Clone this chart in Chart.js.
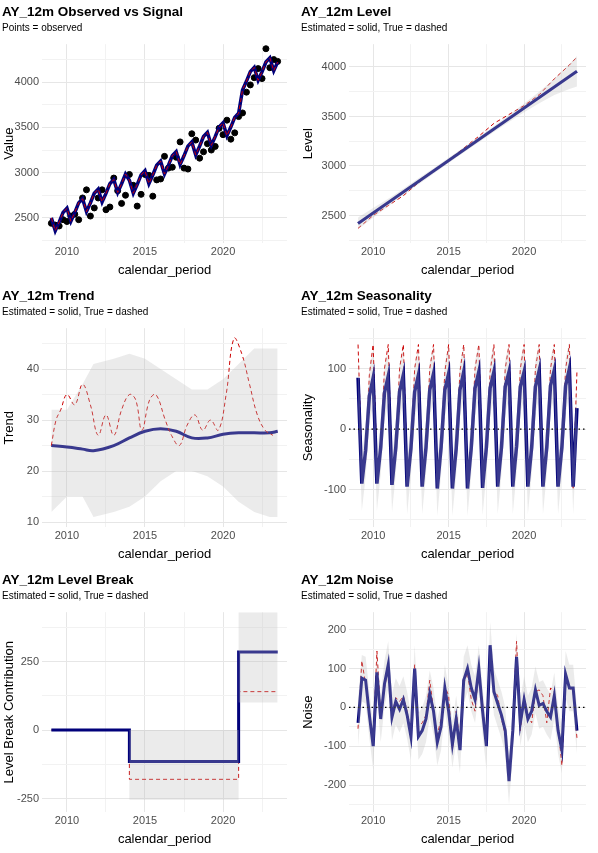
<!DOCTYPE html>
<html><head><meta charset="utf-8">
<script src="https://cdn.jsdelivr.net/npm/chart.js@4"></script>
<style>
body{margin:0;background:#fff;width:598px;height:853px;position:relative;font-family:"Liberation Sans",Arial,sans-serif}
.p{position:absolute;width:299px;height:284px}
</style></head><body>
<div class="p" style="left:0;top:0"><canvas id="c1" width="299" height="284"></canvas></div>
<div class="p" style="left:299px;top:0"><canvas id="c2" width="299" height="284"></canvas></div>
<div class="p" style="left:0;top:284px"><canvas id="c3" width="299" height="284"></canvas></div>
<div class="p" style="left:299px;top:284px"><canvas id="c4" width="299" height="284"></canvas></div>
<div class="p" style="left:0;top:568px"><canvas id="c5" width="299" height="285"></canvas></div>
<div class="p" style="left:299px;top:568px"><canvas id="c6" width="299" height="285"></canvas></div>
<script>
// quarterly periods 2009.00 .. 2023.50
const quarters = [];
for (let i = 0; i < 59; i++) quarters.push(2009 + i / 4);

const observed = [2440,2420,2410,2480, 2460,2520,2540,2480, 2720,2810,2520,2610, 2720,2810,2590,2620,
 2940,2800,2660,2750, 2980,2860,2630,2760, 2980,2970,2740,2920, 2930,3180,3050,3060,
 3170,3340,3050,3040, 3430,3360,3160,3230, 3320,3250,3290,3490, 3420,3580,3370,3440,
 3620,3660,3890,3970, 4050,4150,4040,4370, 4160,4250,4230];
const signal = [2500,2357,2453,2560, 2606,2463,2559,2666, 2712,2569,2665,2772, 2818,2675,2771,2878,
 2924,2781,2877,2984, 2915,2772,2868,2975, 3021,2878,2974,3081, 3127,2984,3080,3187,
 3233,3090,3186,3293, 3339,3196,3292,3399, 3445,3302,3398,3505, 3551,3408,3504,3611,
 3657,3914,4010,4117, 4163,4020,4116,4223, 4269,4126,4222];

const levelYears = [2009,2010,2011,2012,2013,2014,2015,2016,2017,2018,2019,2020,2021,2022,2023,2023.5];
const levelEst  = [2420,2526,2632,2738,2844,2950,3056,3162,3268,3374,3480,3586,3692,3798,3904,3957];
const levelTrue = [2370,2500,2600,2700,2830,2950,3060,3180,3300,3430,3520,3610,3720,3880,4020,4100];
const levelUp   = [2480,2575,2670,2770,2875,2978,3082,3188,3296,3405,3515,3630,3750,3880,4030,4110];
const levelLo   = [2360,2477,2594,2706,2813,2922,3030,3136,3240,3343,3445,3542,3634,3716,3778,3804];

const trendYears = [2009,2010,2011,2011.7,2013,2014,2015,2016,2017,2018,2019,2020,2021,2022,2023,2023.5];
const trendEst   = [25,24.7,24.3,24,25,26.5,27.8,28.3,27.8,26.5,26.5,27.2,27.5,27.5,27.5,27.8];
const trendUp    = [32,32,37,41,42,43,42,40,38,36,36,38,41,44,44,44];
const trendLo    = [12,15,15,11,12,13,15,18,20,20,19,17,14,12,11,11];
const trendTrueX = [2009,2009.3,2009.6,2010,2010.5,2011,2011.5,2012,2012.5,2013,2013.5,2014,2014.4,2014.8,2015.3,2015.7,2016.3,2016.7,2017.2,2017.7,2018.2,2018.7,2019.2,2019.7,2020.2,2020.7,2021.2,2021.7,2022.2,2022.7,2023.2];
const trendTrue  = [25,30,32,35,33,37,33,27,31,27,32,35,34,28,34,35,30,27,25,29,31,28,30,28,35,46,43,37,31,28,27];

const seasEst = [85,-90,-35,55, 85,-90,-30,60, 88,-92,-30,62, 90,-95,-32,62, 90,-95,-30,65, 92,-98,-30,65,
 92,-98,-32,65, 95,-98,-30,68, 95,-97,-30,68, 95,-95,-30,70, 95,-95,-28,70, 95,-95,-30,70,
 97,-95,-30,72, 98,-95,-30,72, 100,-95,35];
const seasTrue = [140,-60,-50,90, 140,-60,-40,100, 140,-70,-40,100, 140,-70,-40,100, 140,-80,-40,100, 140,-80,-30,95,
 140,-80,-35,95, 140,-80,-30,100, 140,-75,-40,95, 140,-80,-40,100, 140,-80,-40,100, 140,-80,-40,100,
 140,-90,-30,100, 140,-90,-30,100, 140,-100,95];

const breakX    = [2009,2014,2014,2021,2021,2023.5];
const breakEst  = [0,0,-115,-115,285,285];
const breakTrue = [0,0,-180,-180,140,140];
const breakUp   = [0,0,0,0,460,460];
const breakLo   = [0,0,-255,-255,100,100];

const noiseEst = [-40,75,70,-20, -100,90,-30,60, 110,-25,15,-5, 20,-20,-75,100, -75,-60,-30,35,
 -10,-90,-50,50, -10,-95,-30,-110, 70,100,50,20, 100,-10,-100,160, 40,10,-20,-60,
 -190,-60,130,-40, 20,-30,-10,45, 5,10,-10,-25, 30,-60,-110,85, 50,50,-60];
const noiseTrue = [-55,120,60,-10, -95,145,-20,50, 100,-20,25,15, 30,-10,-60,110, -50,-40,-20,70,
 -5,-70,-30,55, 30,-110,-10,-90, 60,90,20,-10, 95,10,-95,150, 45,30,-30,-70,
 -170,-50,170,-60, 30,-20,-40,40, 45,30,-40,50, 40,-50,-150,80, 50,40,-80];

const xr = (xs, ys) => xs.map((x, i) => ({x, y: ys[i]}));
const BLUE = '#00007a', RED = '#cc0000', BAND = 'rgba(190,190,190,0.3)';

function line(xs, ys, o) {
  return Object.assign({data: xr(xs, ys), borderColor: BLUE, backgroundColor: BLUE, borderWidth: 3, pointRadius: 0, fill: false, tension: 0}, o);
}
function band(xs, up, lo) {
  return [
    {data: xr(xs, up), borderWidth: 0, pointRadius: 0, fill: '+1', backgroundColor: BAND, borderColor: 'transparent'},
    {data: xr(xs, lo), borderWidth: 0, pointRadius: 0, fill: false, borderColor: 'transparent'}
  ];
}
function zero() {
  return {data: [{x: 2008.4, y: 0}, {x: 2024.1, y: 0}], borderColor: '#000', borderWidth: 1.2, borderDash: [1.5, 3], pointRadius: 0, fill: false};
}

function make(id, title, sub, ytitle, ymin, ymax, step, major, yw, datasets) {
  new Chart(document.getElementById(id), {
    type: 'line',
    data: {datasets},
    options: {
      responsive: false, animation: false, devicePixelRatio: 1,
      layout: {padding: {left: 2, right: 12, top: 0, bottom: 2}},
      plugins: {
        legend: {display: false}, tooltip: {enabled: false},
        title: {display: true, text: title, align: 'start', color: '#000', font: {size: 13.5, weight: 'bold', family: 'Liberation Sans'}, padding: {top: 4, bottom: 2}},
        subtitle: {display: true, text: sub, align: 'start', color: '#000', font: {size: 10, family: 'Liberation Sans'}, padding: {bottom: 10}}
      },
      scales: {
        x: {type: 'linear', min: 2008.4, max: 2024.1,
          border: {display: false},
          ticks: {stepSize: 2.5, autoSkip: false, color: '#4d4d4d', font: {size: 11}, maxRotation: 0, padding: 2,
            callback: v => (v % 5 === 0 ? String(v) : '')},
          afterBuildTicks: a => { a.ticks = [2007.5,2010,2012.5,2015,2017.5,2020,2022.5].filter(v => v >= a.min && v <= a.max).map(v => ({value: v})); },
          grid: {color: c => (c.tick && c.tick.value % 5 === 0 ? '#e6e6e6' : '#f2f2f2'), drawTicks: false, lineWidth: 1},
          title: {display: true, text: 'calendar_period', color: '#000', font: {size: 13}, padding: {top: 2}}},
        y: {min: ymin, max: ymax,
          border: {display: false},
          afterFit: a => { a.width = yw; },
          afterBuildTicks: a => { const t = []; const s = Math.ceil(ymin / step) * step; for (let v = s; v <= ymax; v += step) t.push({value: v}); a.ticks = t; },
          ticks: {color: '#4d4d4d', font: {size: 11}, padding: 3, autoSkip: false,
            callback: v => (Math.abs(v % major) < 1e-9 ? String(v) : '')},
          grid: {color: c => (c.tick && Math.abs(c.tick.value % major) < 1e-9 ? '#e6e6e6' : '#f2f2f2'), drawTicks: false},
          title: {display: true, text: ytitle, color: '#000', font: {size: 13}, padding: {top: 0, bottom: 0}}}
      }
    }
  });
}

make('c1', 'AY_12m Observed vs Signal', 'Points = observed', 'Value', 2220, 4420, 250, 500, 40, [
  line(quarters, signal, {borderColor: RED, borderWidth: 1, borderDash: [4, 3]}),
  line(quarters, signal, {borderWidth: 3.5}),
  {type: 'scatter', data: xr(quarters, observed), backgroundColor: '#000', borderColor: '#000', pointRadius: 3, showLine: false}
]);
make('c2', 'AY_12m Level', 'Estimated = solid, True = dashed', 'Level', 2220, 4230, 250, 500, 48, [
  ...band(levelYears, levelUp, levelLo),
  line(levelYears, levelEst),
  line(levelYears, levelTrue, {borderColor: RED, borderWidth: 1, borderDash: [4, 3]})
]);
make('c3', 'AY_12m Trend', 'Estimated = solid, True = dashed', 'Trend', 9, 48, 5, 10, 40, [
  ...band(trendYears, trendUp, trendLo),
  line(trendTrueX, trendTrue, {borderColor: RED, borderWidth: 1, borderDash: [4, 3], tension: 0.4}),
  line(trendYears, trendEst, {tension: 0.4})
]);
make('c4', 'AY_12m Seasonality', 'Estimated = solid, True = dashed', 'Seasonality', -162, 167, 50, 100, 48, [
  ...band(quarters, seasEst.map(v => v + 45), seasEst.map(v => v - 45)),
  zero(),
  line(quarters, seasEst, {borderWidth: 3.5}),
  line(quarters, seasTrue, {borderColor: RED, borderWidth: 1, borderDash: [4, 3]})
]);
make('c5', 'AY_12m Level Break', 'Estimated = solid, True = dashed', 'Level Break Contribution', -300, 430, 125, 250, 40, [
  ...band(breakX, breakUp, breakLo),
  line(breakX, breakEst),
  line(breakX, breakTrue, {borderColor: RED, borderWidth: 1, borderDash: [4, 3]})
]);
make('c6', 'AY_12m Noise', 'Estimated = solid, True = dashed', 'Noise', -270, 245, 50, 100, 48, [
  ...band(quarters, noiseEst.map(v => v + 60), noiseEst.map(v => v - 60)),
  zero(),
  line(quarters, noiseEst),
  line(quarters, noiseTrue, {borderColor: RED, borderWidth: 1, borderDash: [4, 3]})
]);
</script></body></html>
